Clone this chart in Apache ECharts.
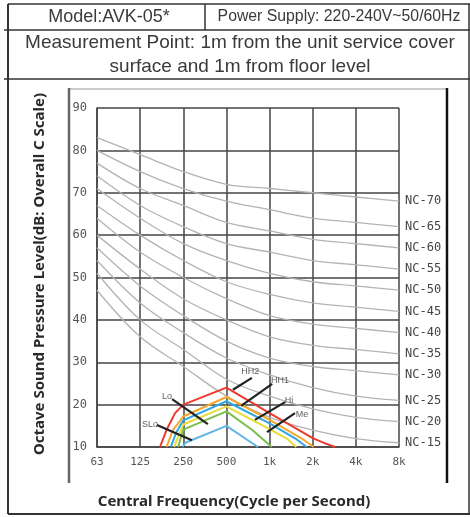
<!DOCTYPE html>
<html><head><meta charset="utf-8">
<script src="https://cdn.jsdelivr.net/npm/echarts@6/dist/echarts.min.js"></script>
<style>html,body{margin:0;padding:0;background:#fff}#c{width:470px;height:517px}</style>
</head><body><div id="c"></div>
<script>
// X tick labels (octave band centre frequencies), x = octave index 0..7
const freqLabels = ['63', '125', '250', '500', '1k', '2k', '4k', '8k'];
const yTicks = [10, 20, 30, 40, 50, 60, 70, 80, 90];

// NC reference curves (dB at 63..8k)
const ncNames = ['NC-15', 'NC-20', 'NC-25', 'NC-30', 'NC-35', 'NC-40', 'NC-45', 'NC-50', 'NC-55', 'NC-60', 'NC-65', 'NC-70'];
const nc15 = [47, 36, 29, 22, 17, 14, 12, 11];
const nc20 = [51, 40, 33, 26, 22, 19, 17, 16];
const nc25 = [54, 44, 37, 31, 27, 24, 22, 21];
const nc30 = [57, 48, 41, 35, 31, 29, 28, 27];
const nc35 = [60, 52, 45, 40, 36, 34, 33, 32];
const nc40 = [64, 56, 50, 45, 41, 39, 38, 37];
const nc45 = [67, 60, 54, 49, 46, 44, 43, 42];
const nc50 = [71, 64, 58, 54, 51, 49, 48, 47];
const nc55 = [74, 67, 62, 58, 56, 54, 53, 52];
const nc60 = [77, 71, 67, 63, 61, 59, 58, 57];
const nc65 = [80, 75, 71, 68, 66, 64, 63, 62];
const nc70 = [83, 79, 75, 72, 71, 70, 69, 68];
const ncValues = [nc15, nc20, nc25, nc30, nc35, nc40, nc45, nc50, nc55, nc60, nc65, nc70];

// Measured fan-speed curves: [octave index, dB]
const speedNames = ['HH2', 'HH1', 'Hi', 'Me', 'Lo', 'SLo'];
const hh2 = [[1.46, 10], [1.61, 14], [1.81, 18], [2, 20], [3, 24], [4, 18], [5, 12.1], [5.3, 10.8], [5.52, 10]];
const hh1 = [[1.61, 10], [1.76, 14], [2, 17.2], [3, 21.8], [4, 16.4], [4.75, 12], [5.02, 10]];
const hi  = [[1.71, 10], [1.84, 13.5], [2, 16.3], [3, 20.8], [4, 15.6], [4.6, 12], [4.86, 10]];
const me  = [[1.79, 10], [1.9, 13], [2, 15.3], [3, 19.6], [4, 14.2], [4.4, 12], [4.62, 10]];
const lo  = [[1.88, 10], [1.95, 12.5], [2, 14.1], [3, 18.4], [3.6, 14], [4.05, 10]];
const slo = [[1.98, 10], [2.05, 11], [3, 15], [3.73, 10]];
const speedValues = [hh2, hh1, hi, me, lo, slo];
const speedColors = ['#ee3a2e', '#f4a62c', '#2fa6e2', '#e6dc3a', '#78c04c', '#62b6e4'];

// Annotation text anchors and leader lines (data coordinates)
const tagPos = [[3.55, 27.7], [4.24, 25.6], [4.45, 20.9], [4.75, 17.6], [1.62, 22.0], [1.23, 15.4]];
const leaderFrom = [[3.59, 26.3], [4.06, 24.9], [4.36, 20.6], [4.59, 18.0], [1.74, 21.3], [1.39, 15.2]];
const leaderTo   = [[3.15, 23.5], [3.34, 19.7], [3.66, 16.4], [3.94, 13.5], [2.57, 15.4], [2.20, 11.6]];

const mono = 'DejaVu Sans Mono';
const series = [];
ncValues.forEach((vals, i) => {
  series.push({
    type: 'line', name: ncNames[i], data: vals.map((v, k) => [k, v]),
    smooth: 0.35, symbol: 'none', clip: true, silent: true,
    lineStyle: { color: '#b3b3b3', width: 1.3 },
    endLabel: { show: true, formatter: ncNames[i], distance: 6, fontFamily: mono, fontSize: 12, color: '#444' },
    z: 1
  });
});
speedValues.forEach((vals, i) => {
  series.push({
    type: 'line', name: speedNames[i], data: vals, symbol: 'none', clip: true,
    lineStyle: { color: speedColors[i], width: 2 }, z: 3
  });
});
leaderFrom.forEach((p, i) => {
  series.push({
    type: 'line', data: [p, leaderTo[i]], symbol: 'none',
    lineStyle: { color: '#222', width: 2.2 }, z: 4
  });
});
series.push({
  type: 'scatter', data: tagPos.map((p, i) => ({ value: p, name: speedNames[i] })),
  symbolSize: 0, z: 5,
  label: { show: true, position: 'inside', formatter: '{b}', fontFamily: 'Liberation Sans', fontSize: 9, color: '#333' }
});

const chart = echarts.init(document.getElementById('c'));
chart.setOption({
  animation: false,
  backgroundColor: '#fff',
  grid: { left: 97, top: 108, width: 302, height: 339, containLabel: false },
  xAxis: {
    type: 'value', min: 0, max: 7, interval: 1,
    axisLine: { show: true, lineStyle: { color: '#444', width: 1.5 } },
    axisTick: { show: false },
    splitLine: { show: true, lineStyle: { color: '#444', width: 1.5 } },
    axisLabel: { formatter: v => freqLabels[v], margin: 10, fontFamily: mono, fontSize: 11, color: '#555' }
  },
  yAxis: {
    type: 'value', min: yTicks[0], max: yTicks[yTicks.length - 1], interval: 10,
    axisLine: { show: true, lineStyle: { color: '#444', width: 1.5 } },
    axisTick: { show: false },
    splitLine: { show: true, lineStyle: { color: '#444', width: 1.5 } },
    axisLabel: { margin: 10, fontFamily: mono, fontSize: 12, color: '#555' }
  },
  graphic: [
    // outer table frame
    { type: 'line', shape: { x1: 8, y1: 4, x2: 8, y2: 514 }, style: { stroke: '#333', lineWidth: 2 } },
    { type: 'line', shape: { x1: 8, y1: 4, x2: 470, y2: 4 }, style: { stroke: '#333', lineWidth: 1.5 } },
    { type: 'line', shape: { x1: 469, y1: 4, x2: 469, y2: 514 }, style: { stroke: '#333', lineWidth: 1.5 } },
    { type: 'line', shape: { x1: 4, y1: 30, x2: 470, y2: 30 }, style: { stroke: '#333', lineWidth: 1.5 } },
    { type: 'line', shape: { x1: 4, y1: 79, x2: 470, y2: 79 }, style: { stroke: '#333', lineWidth: 1.5 } },
    { type: 'line', shape: { x1: 205, y1: 4, x2: 205, y2: 30 }, style: { stroke: '#333', lineWidth: 1.5 } },
    { type: 'line', shape: { x1: 8, y1: 514, x2: 470, y2: 514 }, style: { stroke: '#333', lineWidth: 2 } },
    // inner chart box
    { type: 'line', shape: { x1: 69, y1: 89, x2: 447, y2: 89 }, style: { stroke: '#999', lineWidth: 1 } },
    { type: 'line', shape: { x1: 69, y1: 88, x2: 69, y2: 483 }, style: { stroke: '#666', lineWidth: 2.5 } },
    { type: 'line', shape: { x1: 447, y1: 88, x2: 447, y2: 483 }, style: { stroke: '#111', lineWidth: 2.5 } },
    // header texts
    { type: 'text', x: 109, y: 17, style: { text: 'Model:AVK-05*', font: '18px "Liberation Sans"', fill: '#3a3a3a', align: 'center', verticalAlign: 'middle' } },
    { type: 'text', x: 339, y: 17, style: { text: 'Power Supply: 220-240V~50/60Hz', font: '15.8px "Liberation Sans"', fill: '#3a3a3a', align: 'center', verticalAlign: 'middle' } },
    { type: 'text', x: 240, y: 43, style: { text: 'Measurement Point: 1m from the unit service cover', font: '19px "Liberation Sans"', fill: '#3a3a3a', align: 'center', verticalAlign: 'middle' } },
    { type: 'text', x: 240, y: 67, style: { text: 'surface and 1m from floor level', font: '19px "Liberation Sans"', fill: '#3a3a3a', align: 'center', verticalAlign: 'middle' } },
    // axis titles
    { type: 'text', x: 40, y: 274, rotation: Math.PI / 2, style: { text: 'Octave Sound Pressure Level(dB: Overall C Scale)', font: 'bold 15px "Noto Sans"', fill: '#2a2a2a', align: 'center', verticalAlign: 'middle' } },
    { type: 'text', x: 234, y: 502, style: { text: 'Central Frequency(Cycle per Second)', font: 'bold 15px "Noto Sans"', fill: '#2a2a2a', align: 'center', verticalAlign: 'middle' } }
  ],
  series: series
});
</script>
</body></html>
